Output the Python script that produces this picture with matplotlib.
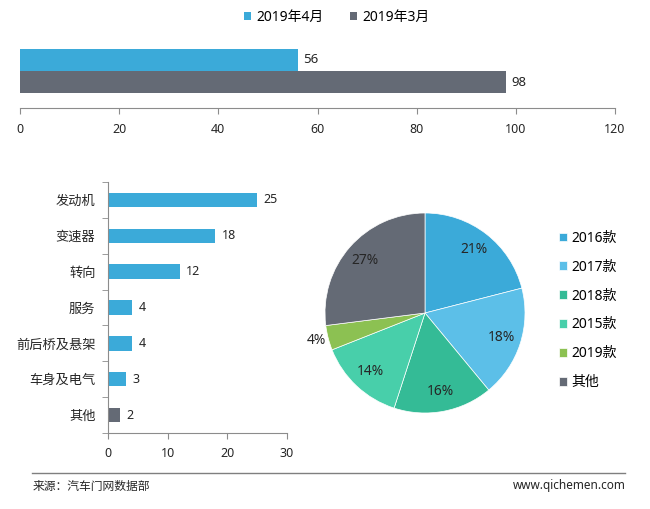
import numpy as np
import matplotlib
matplotlib.use("Agg")
import matplotlib.pyplot as plt
from matplotlib.lines import Line2D

plt.rcParams['font.family'] = ['Noto Sans', 'Noto Sans CJK SC', 'DejaVu Sans']

# data
months = ['2019年4月', '2019年3月']
month_totals = [56, 98]

parts = ['发动机', '变速器', '转向', '服务', '前后桥及悬架', '车身及电气', '其他']
part_counts = [25, 18, 12, 4, 4, 3, 2]

models = ['2016款', '2017款', '2018款', '2015款', '2019款', '其他']
model_share = [21, 18, 16, 14, 4, 27]

blue = '#3BAAD9'
grey = '#646A75'
axis_grey = '#8C8C8C'
txt = '#262626'
pie_colors = ['#3BAAD9', '#5CBFE8', '#34BB96', '#48CFAA', '#8CC152', '#646A75']

W, H = 650, 509
fig = plt.figure(figsize=(W/100, H/100), dpi=100)

def box(x0, y0, x1, y1):
    # pixel box (top-left origin) -> figure fraction
    return [x0/W, 1 - y1/H, (x1 - x0)/W, (y1 - y0)/H]

# ---- top: monthly totals
ax1 = fig.add_axes(box(20, 37, 615, 108))
ypos = [1, 0]
cols = [blue, grey]
for y, v, c, lab in zip(ypos, month_totals, cols, months):
    ax1.barh(y, v, height=1.0, color=c, label=lab)
    ax1.text(v + 1.2, y, str(v), va='center', ha='left', fontsize=9.5, color=txt)
ax1.set_xlim(0, 120)
ax1.set_ylim(-1.16, 2.02)
ax1.set_xticks(np.arange(0, 121, 20))
ax1.set_yticks([])
for s in ['top', 'right', 'left']:
    ax1.spines[s].set_visible(False)
ax1.spines['bottom'].set_color(axis_grey)
ax1.tick_params(axis='x', colors=axis_grey, labelcolor=txt, labelsize=9, length=4, pad=7)

fig.legend(loc='center', bbox_to_anchor=(337/W, 1 - 17/H), ncol=2, frameon=False,
           fontsize=10, handlelength=0.5, handleheight=0.5, handletextpad=0.38,
           columnspacing=1.9, borderpad=0, borderaxespad=0)

# ---- bottom left: parts
ax2 = fig.add_axes(box(108, 182, 287, 433))
n = len(parts)
yy = np.arange(n)[::-1]
bar_cols = [blue] * (n - 1) + [grey]
ax2.barh(yy, part_counts, height=0.4, color=bar_cols)
for y, v in zip(yy, part_counts):
    ax2.text(v + 1.1, y, str(v), va='center', ha='left', fontsize=9, color=txt)
ax2.set_xlim(0, 30)
ax2.set_ylim(-0.5, n - 0.5)
ax2.set_xticks([0, 10, 20, 30])
ax2.set_yticks(yy)
ax2.set_yticklabels(parts)
ax2.set_yticks(np.arange(-0.5, n, 1), minor=True)
ax2.tick_params(axis='y', which='major', length=0, pad=9, labelsize=9.5, labelcolor=txt)
ax2.tick_params(axis='y', which='minor', length=4, color=axis_grey)
ax2.tick_params(axis='x', colors=axis_grey, labelcolor=txt, labelsize=9, length=4, pad=6)
for s in ['top', 'right']:
    ax2.spines[s].set_visible(False)
ax2.spines['left'].set_color(axis_grey)
ax2.spines['bottom'].set_color(axis_grey)

# ---- bottom right: model year share
ax3 = fig.add_axes(box(325, 213, 525, 413))
wedges, _, autotexts = ax3.pie(model_share, colors=pie_colors, startangle=90, counterclock=False,
                               autopct='%d%%', pctdistance=0.8,
                               wedgeprops=dict(edgecolor='white', linewidth=0.5),
                               textprops=dict(fontsize=10, color=txt))
for t, v in zip(autotexts, model_share):
    if v < 5:
        x, y = t.get_position()
        t.set_position((x * 1.12 / 0.8, y * 1.12 / 0.8))
ax3.set_xlim(-1, 1)
ax3.set_ylim(-1, 1)

fig.legend(wedges, models, loc='center left', bbox_to_anchor=(559/W, 1 - 310.5/H),
           frameon=False, fontsize=10, handlelength=0.58, handleheight=0.58,
           handletextpad=0.3, labelspacing=1.0, borderpad=0, borderaxespad=0)

# ---- footer
fig.add_artist(Line2D([32/W, 625/W], [1 - 473/H, 1 - 473/H], color='#7F7F7F', linewidth=1))
fig.text(33/W, 1 - 486/H, '来源：汽车门网数据部', fontsize=8.5, color=txt, va='center', ha='left')
fig.text(626/W, 1 - 485/H, 'www.qichemen.com', fontsize=8.5, color=txt, va='center', ha='right')

fig.savefig('out.png', dpi=100)
